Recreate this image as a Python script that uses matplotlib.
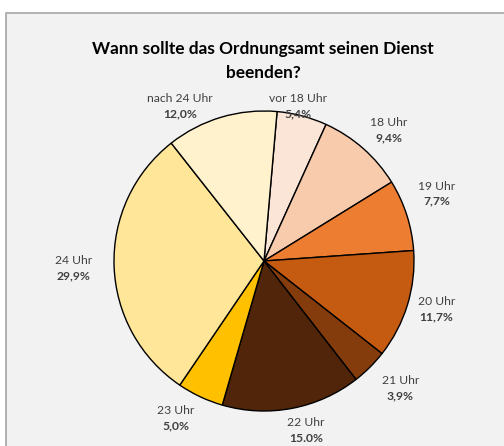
import matplotlib
matplotlib.use("Agg")
import matplotlib.pyplot as plt
from matplotlib.patches import Rectangle

plt.rcParams['font.family'] = ['Lato', 'DejaVu Sans']

categories = ['vor 18 Uhr', '18 Uhr', '19 Uhr', '20 Uhr', '21 Uhr',
              '22 Uhr', '23 Uhr', '24 Uhr', 'nach 24 Uhr']
values = [5.4, 9.4, 7.7, 11.7, 3.9, 15.0, 5.0, 29.9, 12.0]
value_labels = ['5,4%', '9,4%', '7,7%', '11,7%', '3,9%',
                '15.0%', '5,0%', '29,9%', '12,0%']
colors = ['#fbe5d6', '#f8cbad', '#ed7d31', '#c55a11', '#843c0c',
          '#512509', '#ffc000', '#ffe699', '#fff2cc']

# label positions in pie radius units
label_pos = [(0.23, 1.03), (0.83, 0.87), (1.15, 0.45), (1.15, -0.32),
             (0.91, -0.85), (0.28, -1.13), (-0.59, -1.05), (-1.27, -0.05),
             (-0.56, 1.03)]

W, H = 504, 446
cx, cy, R = 264, 261, 150

fig = plt.figure(figsize=(W / 100, H / 100), dpi=100)
fig.patch.set_facecolor('white')
ax = fig.add_axes([0, 0, 1, 1])

# chart area panel
px0, py0 = (6 - cx) / R, (cy - 13) / R
pyb = (cy - H - 10) / R
ax.add_patch(Rectangle((px0, pyb), (W + 10) / R, py0 - pyb,
                       facecolor='#f2f2f2', edgecolor='#a6a6a6', lw=1.2, zorder=0))

ax.pie(values, colors=colors, startangle=85, counterclock=False,
       wedgeprops=dict(edgecolor='black', linewidth=1.0), radius=1, frame=True)
ax.set_xlim(-cx / R, (W - cx) / R)
ax.set_ylim((cy - H) / R, cy / R)
ax.set_aspect('equal')
ax.axis('off')

for name, lab, (lx, ly) in zip(categories, value_labels, label_pos):
    ax.text(lx, ly + 0.05, name, ha='center', va='center', fontsize=8.7, color='#404040')
    ax.text(lx, ly - 0.05, lab, ha='center', va='center', fontsize=8.7,
            fontweight='bold', color='#404040')

ax.text(263 / R - cx / R, (cy - 49) / R, 'Wann sollte das Ordnungsamt seinen Dienst',
        ha='center', va='center', fontsize=12.4, fontweight='bold', color='black')
ax.text(263 / R - cx / R, (cy - 73) / R, 'beenden?', ha='center', va='center',
        fontsize=12.4, fontweight='bold', color='black')

fig.savefig('out.png', dpi=100, facecolor='white')
